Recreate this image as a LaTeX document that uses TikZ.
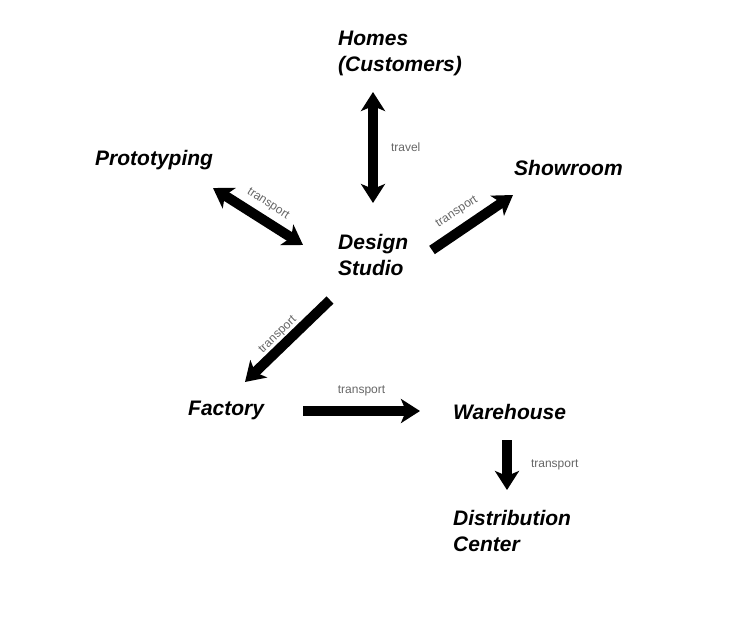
\documentclass[tikz,border=0pt]{standalone}
\usepackage{fontspec}
\setmainfont{Liberation Sans}
\usetikzlibrary{arrows.meta}
\tikzset{
  place/.style={font=\fontsize{21}{26}\selectfont\bfseries\itshape, align=left, anchor=north west, inner sep=0pt},
  haul/.style={line width=10pt, -{Stealth[length=19pt,width=24pt,inset=5pt]}},
  haulboth/.style={line width=10pt, {Stealth[length=19pt,width=24pt,inset=5pt]}-{Stealth[length=19pt,width=24pt,inset=5pt]}},
  note/.style={font=\fontsize{12}{13}\selectfont, text=black!60, inner sep=1pt}
}
\begin{document}
\begin{tikzpicture}[x=1pt, y=-1pt]
  \useasboundingbox (0,0) rectangle (739,635);

  % Places
  \node[place] (homes) at (338,31) {Homes\\(Customers)};
  \node[place] (proto) at (95,150) {Prototyping};
  \node[place] (show) at (514,160) {Showroom};
  \node[place] (studio) at (338,234) {Design\\Studio};
  \node[place] (factory) at (188,401) {Factory};
  \node[place] (ware) at (453,404) {Warehouse};
  \node[place] (distrib) at (453,510) {Distribution\\Center};

  % Arrow ends
  \coordinate (homesEnd) at (373,92);
  \coordinate (studioTop) at (373,203);
  \coordinate (protoEnd) at (213,188);
  \coordinate (studioLeft) at (303,245);
  \coordinate (studioRight) at (432,250);
  \coordinate (showEnd) at (513,195);
  \coordinate (studioBottom) at (330,300);
  \coordinate (factoryEnd) at (245,382);
  \coordinate (factoryRight) at (303,411);
  \coordinate (wareLeft) at (420,411);
  \coordinate (wareBottom) at (507,440);
  \coordinate (distribEnd) at (507,490);

  % Connections
  \draw[haulboth] (homesEnd) -- (studioTop) node[note, midway, right=12pt] {travel};
  \draw[haulboth] (protoEnd) -- (studioLeft);
  \node[note, rotate=-33] (protoLbl) at (268,204) {transport};
  \draw[haul] (studioRight) -- (showEnd);
  \node[note, rotate=33] (showLbl) at (457,212) {transport};
  \draw[haul] (studioBottom) -- (factoryEnd);
  \node[note, rotate=44] (factoryLbl) at (278,335) {transport};
  \draw[haul] (factoryRight) -- (wareLeft) node[note, midway, above=9pt] {transport};
  \draw[haul] (wareBottom) -- (distribEnd) node[note, midway, right=18pt] {transport};
\end{tikzpicture}
\end{document}
